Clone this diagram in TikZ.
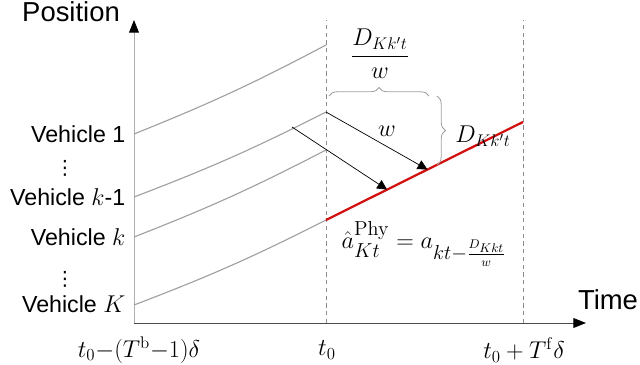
\documentclass[tikz,border=0pt]{standalone}
\usepackage[no-math]{fontspec}
\setmainfont{Liberation Sans}
\newfontfamily\symfont{DejaVu Sans}
\usepackage{amsmath}
\usetikzlibrary{arrows.meta,decorations.pathreplacing,calc}
\definecolor{trackGray}{RGB}{160,160,160}
\definecolor{axisGray}{RGB}{175,175,175}
\definecolor{dashGray}{RGB}{140,140,140}
\definecolor{phyRed}{RGB}{210,16,16}
\begin{document}
\begin{tikzpicture}[x=0.025cm,y=0.025cm,
    track/.style={trackGray,line width=0.8pt},
    guide/.style={dashGray,dashed,line width=0.6pt,dash pattern=on 3pt off 2.5pt},
    shiftarrow/.style={black,line width=0.5pt,-{Triangle[length=7pt,width=7pt]}},
    curly/.style={trackGray,line width=0.6pt,decorate,decoration={brace,amplitude=6pt}},
    vlabel/.style={inner sep=1pt,font=\fontsize{16.5}{18}\selectfont,anchor=east},
    vdotlabel/.style={inner sep=0pt,font=\symfont\fontsize{14}{14}\selectfont},
    tlabel/.style={inner sep=1pt,font=\fontsize{18}{20}\selectfont}]
    \useasboundingbox (0,0) rectangle (640,364);
    % Axes
    \coordinate (orig) at (134,41);
    \coordinate (ytop) at (134,344);
    \coordinate (xend) at (586,41);
    \draw[axisGray,line width=0.6pt,-{Triangle[length=9pt,width=7pt,black]}] (orig) -- (ytop);
    \draw[black!70,line width=0.6pt,-{Triangle[length=9pt,width=7pt,black]}] (orig) -- (xend);
    \node[font=\fontsize{19.5}{22}\selectfont] (pos) at (71,352) {Position};
    \node[font=\fontsize{19.5}{22}\selectfont] (time) at (608,64) {Time};
    % Time instants
    \coordinate (nowb) at (326,41);
    \coordinate (nowt) at (326,344);
    \coordinate (endb) at (523,41);
    \coordinate (endt) at (523,344);
    \draw[guide] (nowb) -- (nowt);
    \draw[guide] (endb) -- (endt);
    \node[tlabel] (tpast) at (139,14) {$t_0{-}(T^{\mathrm{b}}{-}1)\delta$};
    \node[tlabel] (tnow) at (327,14) {$t_0$};
    \node[tlabel] (tend) at (524,14) {$t_0+T^{\mathrm{f}}\delta$};
    % Vehicle trajectories
    \coordinate (v1s) at (134,230);
    \coordinate (v1e) at (326,319);
    \coordinate (vms) at (134,167);
    \coordinate (vme) at (326,252);
    \coordinate (vks) at (134,127);
    \coordinate (vke) at (326,214);
    \coordinate (vKs) at (134,59);
    \coordinate (vKe) at (326,144);
    \coordinate (vKf) at (523,242);
    \draw[track] (v1s) to[bend right=3] (v1e);
    \draw[track] (vms) to[bend right=3] (vme);
    \draw[track] (vks) to[bend right=3] (vke);
    \draw[track] (vKs) to[bend right=3] (vKe);
    \draw[phyRed,line width=1.6pt] (vKe) -- (vKf);
    \node[vlabel] (lab1) at (127,230) {Vehicle 1};
    \node[vdotlabel] (dots1) at (65,196) {⋮};
    \node[vlabel] (labm) at (127,167) {Vehicle $k$-1};
    \node[vlabel] (labk) at (127,127) {Vehicle $k$};
    \node[vdotlabel] (dots2) at (65,85) {⋮};
    \node[vlabel] (labK) at (127,60) {Vehicle $K$};
    % Shifted positions
    \coordinate (src2) at (292,237);
    \coordinate (hit1) at ($(vKe)!0.31!(vKf)$);
    \coordinate (hit2) at ($(vKe)!0.515!(vKf)$);
    \draw[shiftarrow] (src2) -- (hit1);
    \draw[shiftarrow] (vme) -- (hit2);
    \node[font=\fontsize{18}{20}\selectfont] (wlab) at (387,233) {$w$};
    % Braces
    \coordinate (hbl) at (329,268);
    \coordinate (hbr) at (429,268);
    \coordinate (vbb) at (437,199);
    \coordinate (vbt) at (437,268);
    \draw[curly] (hbl) -- (hbr);
    \draw[curly] (vbt) -- (vbb);
    \node[font=\fontsize{18}{20}\selectfont] (gaplab) at (483,228) {$D_{Kk't}$};
    \node[font=\fontsize{18}{20}\selectfont] (fraclab) at (380,310) {$\dfrac{D_{Kk't}}{w}$};
    % Physical estimate
    \node[font=\fontsize{19}{21}\selectfont] (estlab) at (424,120)
        {$\hat{a}^{\mathrm{Phy}}_{Kt}=a_{kt-\frac{D_{Kkt}}{w}}$};
\end{tikzpicture}
\end{document}
